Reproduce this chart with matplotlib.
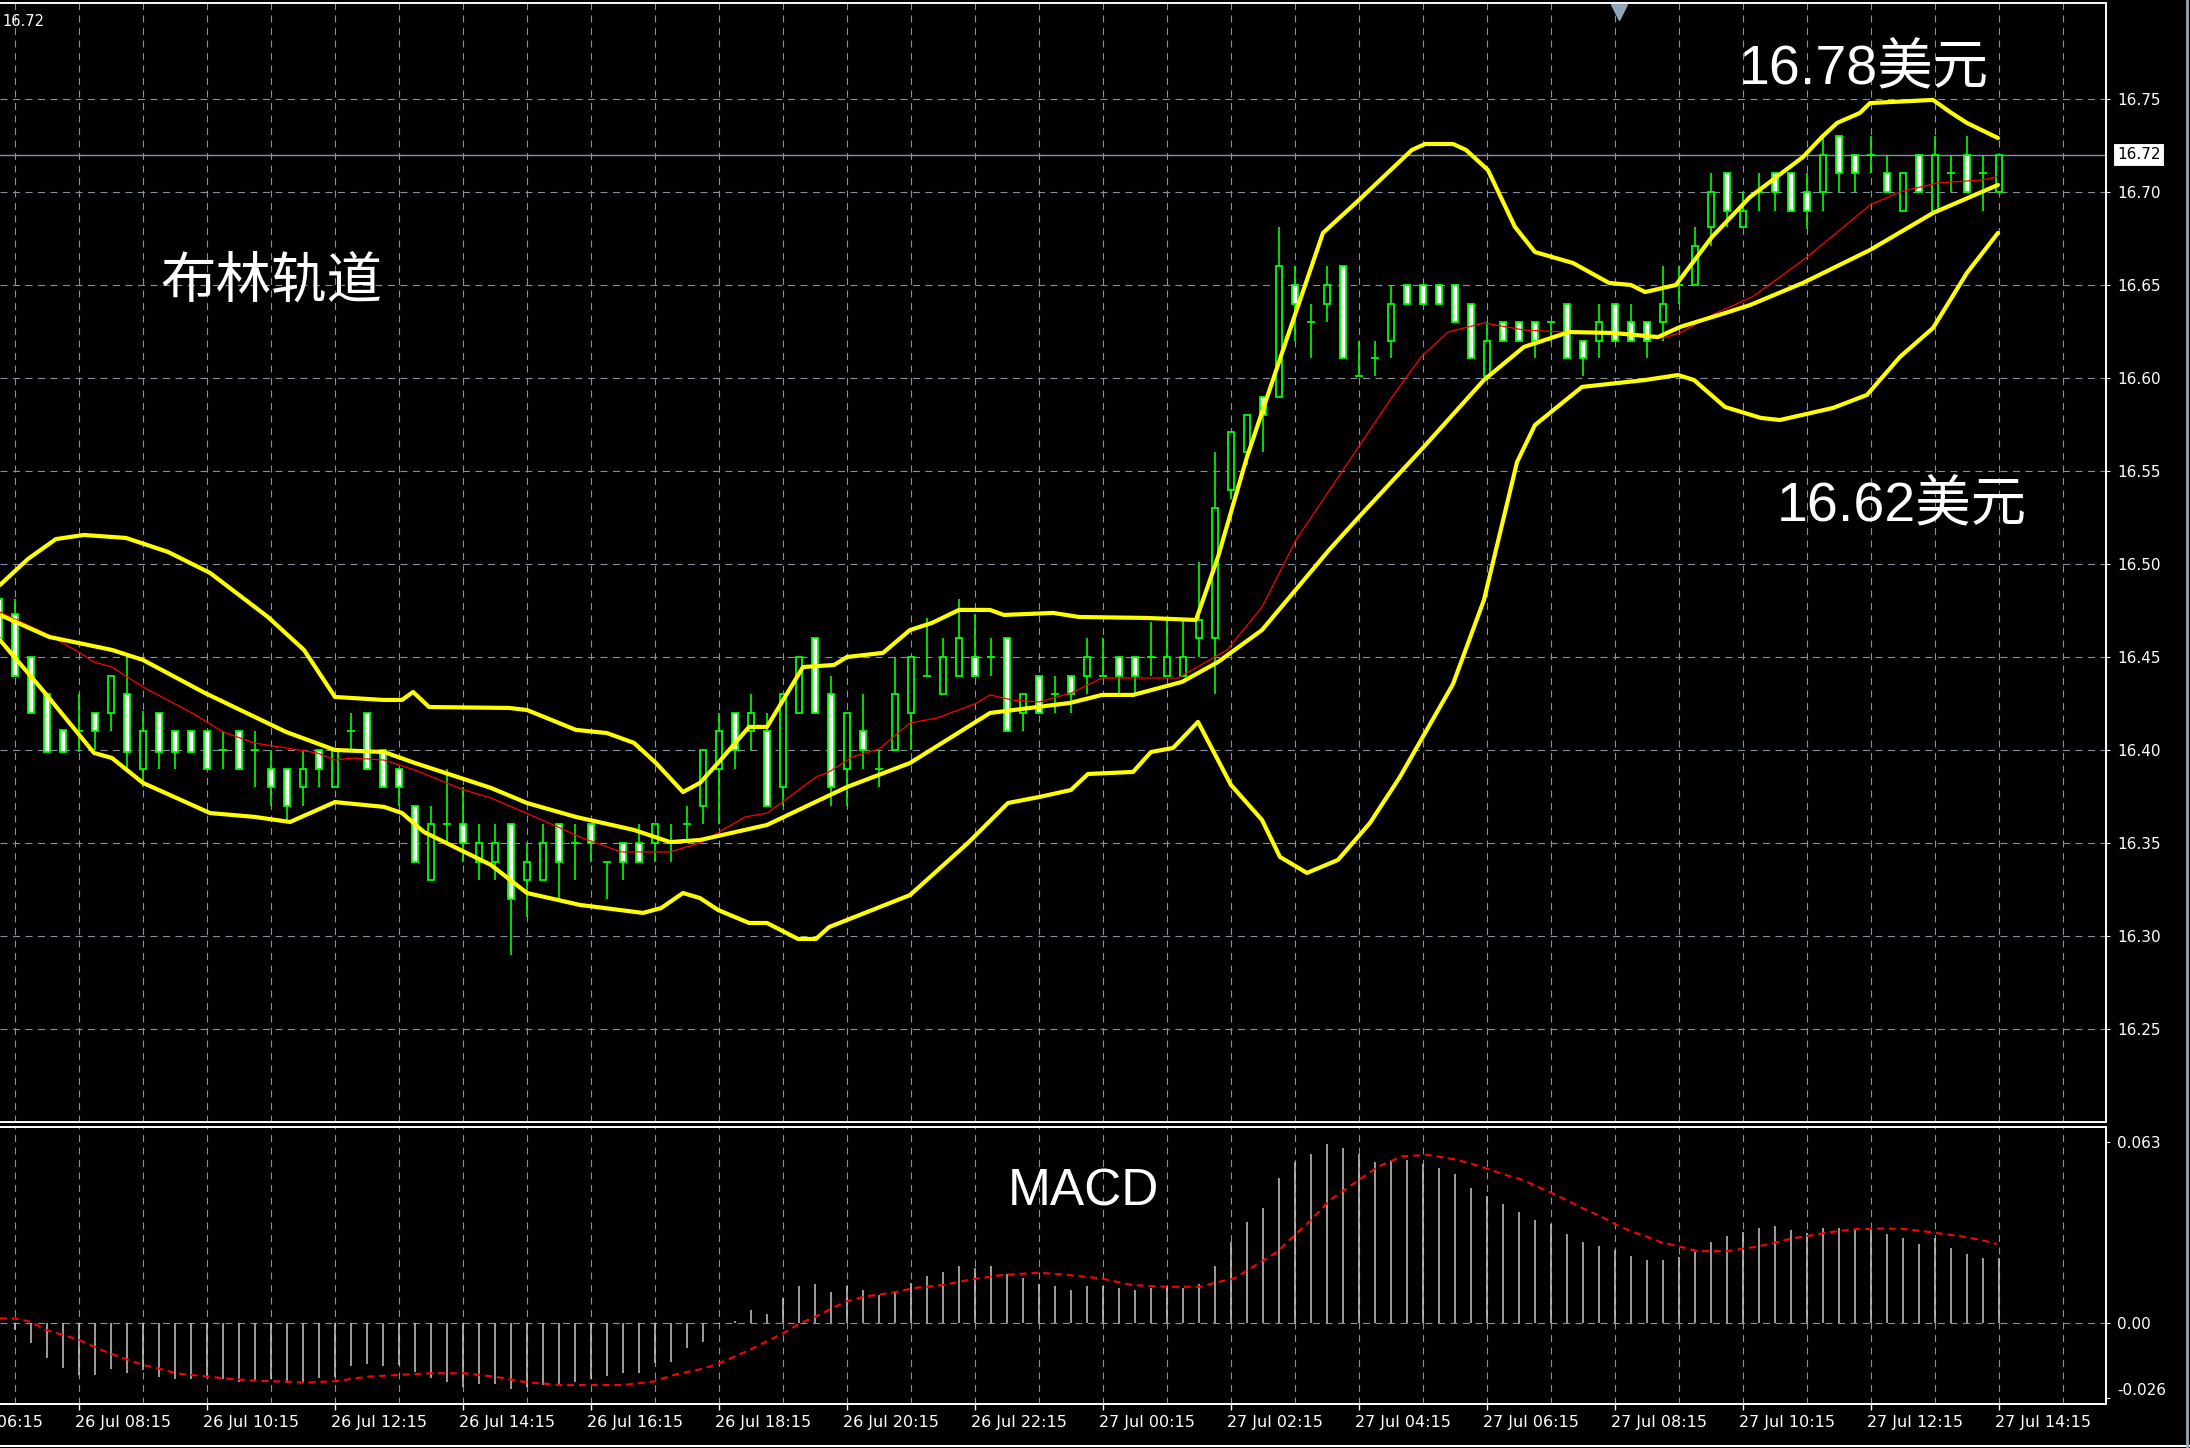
import numpy as np
import matplotlib.pyplot as plt
from matplotlib.lines import Line2D

plt.rcParams['lines.scale_dashes'] = False

# 15-minute bars, bar 0 = 26 Jul 07:00, last bar (125) = 27 Jul 14:15
opens = [16.481, 16.473, 16.450, 16.430, 16.411, 16.410, 16.420, 16.420, 16.430, 16.390,
         16.420, 16.410, 16.410, 16.410, 16.400, 16.410, 16.400, 16.390, 16.390, 16.380,
         16.400, 16.380, 16.410, 16.420, 16.400, 16.390, 16.370, 16.330, 16.360, 16.360,
         16.340, 16.340, 16.360, 16.330, 16.330, 16.360, 16.350, 16.360, 16.340, 16.350,
         16.350, 16.350, 16.350, 16.360, 16.370, 16.390, 16.420, 16.410, 16.410, 16.380,
         16.420, 16.460, 16.430, 16.390, 16.410, 16.390, 16.400, 16.420, 16.440, 16.430,
         16.440, 16.450, 16.450, 16.460, 16.420, 16.440, 16.430, 16.440, 16.440, 16.440,
         16.450, 16.450, 16.450, 16.440, 16.440, 16.460, 16.460, 16.540, 16.560, 16.590,
         16.590, 16.650, 16.630, 16.640, 16.660, 16.601, 16.611, 16.620, 16.650, 16.650,
         16.650, 16.650, 16.640, 16.601, 16.630, 16.630, 16.630, 16.630, 16.640, 16.620,
         16.620, 16.640, 16.630, 16.630, 16.630, 16.650, 16.650, 16.681, 16.710, 16.681,
         16.700, 16.710, 16.710, 16.700, 16.700, 16.730, 16.720, 16.720, 16.710, 16.690,
         16.720, 16.690, 16.710, 16.720, 16.710, 16.700]
highs = [16.483, 16.481, 16.450, 16.430, 16.411, 16.430, 16.420, 16.440, 16.450, 16.421,
         16.420, 16.410, 16.410, 16.410, 16.410, 16.410, 16.410, 16.400, 16.390, 16.400,
         16.400, 16.400, 16.420, 16.420, 16.400, 16.390, 16.370, 16.370, 16.390, 16.380,
         16.360, 16.360, 16.360, 16.350, 16.360, 16.360, 16.360, 16.360, 16.340, 16.350,
         16.360, 16.360, 16.360, 16.370, 16.400, 16.420, 16.420, 16.430, 16.420, 16.430,
         16.450, 16.460, 16.440, 16.420, 16.430, 16.400, 16.450, 16.450, 16.471, 16.460,
         16.481, 16.473, 16.460, 16.460, 16.430, 16.440, 16.440, 16.440, 16.460, 16.460,
         16.450, 16.450, 16.469, 16.471, 16.470, 16.501, 16.560, 16.571, 16.580, 16.590,
         16.681, 16.660, 16.640, 16.660, 16.660, 16.620, 16.620, 16.650, 16.650, 16.650,
         16.650, 16.650, 16.640, 16.630, 16.630, 16.630, 16.630, 16.630, 16.640, 16.620,
         16.640, 16.640, 16.640, 16.630, 16.660, 16.660, 16.681, 16.710, 16.710, 16.700,
         16.710, 16.710, 16.710, 16.710, 16.730, 16.730, 16.720, 16.730, 16.720, 16.710,
         16.720, 16.730, 16.720, 16.730, 16.720, 16.720]
lows = [16.460, 16.440, 16.420, 16.399, 16.399, 16.399, 16.400, 16.410, 16.389, 16.380,
        16.390, 16.390, 16.399, 16.390, 16.390, 16.390, 16.380, 16.370, 16.361, 16.370,
        16.380, 16.380, 16.400, 16.390, 16.380, 16.370, 16.340, 16.330, 16.350, 16.340,
        16.330, 16.330, 16.290, 16.310, 16.330, 16.319, 16.330, 16.340, 16.320, 16.330,
        16.340, 16.340, 16.340, 16.350, 16.360, 16.360, 16.390, 16.400, 16.370, 16.370,
        16.420, 16.420, 16.370, 16.370, 16.390, 16.380, 16.400, 16.400, 16.440, 16.430,
        16.440, 16.440, 16.440, 16.410, 16.410, 16.420, 16.420, 16.420, 16.430, 16.440,
        16.430, 16.430, 16.440, 16.440, 16.440, 16.450, 16.430, 16.535, 16.553, 16.560,
        16.590, 16.620, 16.611, 16.630, 16.611, 16.601, 16.601, 16.611, 16.640, 16.640,
        16.640, 16.630, 16.611, 16.601, 16.620, 16.620, 16.611, 16.620, 16.611, 16.601,
        16.611, 16.620, 16.620, 16.611, 16.620, 16.640, 16.650, 16.671, 16.681, 16.681,
        16.690, 16.690, 16.690, 16.680, 16.690, 16.700, 16.700, 16.710, 16.700, 16.690,
        16.700, 16.690, 16.700, 16.700, 16.690, 16.700]
closes = [16.460, 16.440, 16.420, 16.399, 16.399, 16.410, 16.410, 16.440, 16.399, 16.410,
          16.399, 16.399, 16.399, 16.390, 16.400, 16.390, 16.400, 16.380, 16.370, 16.390,
          16.390, 16.400, 16.410, 16.390, 16.380, 16.380, 16.340, 16.360, 16.360, 16.350,
          16.350, 16.350, 16.320, 16.340, 16.350, 16.340, 16.350, 16.350, 16.340, 16.340,
          16.340, 16.360, 16.350, 16.360, 16.400, 16.410, 16.400, 16.420, 16.370, 16.430,
          16.450, 16.420, 16.380, 16.420, 16.400, 16.390, 16.430, 16.450, 16.440, 16.450,
          16.460, 16.440, 16.450, 16.410, 16.430, 16.420, 16.430, 16.430, 16.450, 16.440,
          16.440, 16.440, 16.450, 16.450, 16.450, 16.470, 16.530, 16.571, 16.580, 16.580,
          16.660, 16.640, 16.630, 16.650, 16.611, 16.601, 16.611, 16.640, 16.640, 16.640,
          16.640, 16.630, 16.611, 16.620, 16.620, 16.620, 16.620, 16.630, 16.611, 16.611,
          16.630, 16.620, 16.620, 16.620, 16.640, 16.650, 16.671, 16.700, 16.690, 16.690,
          16.700, 16.700, 16.690, 16.690, 16.720, 16.710, 16.710, 16.720, 16.700, 16.710,
          16.700, 16.720, 16.710, 16.700, 16.710, 16.720]

# Bollinger bands (bar index, price)
upper_x = [0.06, 1.81, 3.56, 5.31, 7.94, 10.56, 13.19, 16.81, 19.06, 21.0, 24.06, 25.19, 25.88,
           26.88, 31.88, 33.0, 36.06, 38.0, 39.69, 41.06, 42.75, 43.81, 44.94, 46.88, 48.0,
           50.25, 52.19, 53.0, 55.25, 56.94, 58.31, 60.0, 61.94, 62.81, 65.88, 67.5, 71.69,
           74.81, 75.25, 76.19, 78.0, 80.25, 82.75, 85.0, 88.31, 89.13, 90.88, 91.69, 93.06,
           94.75, 96.0, 98.38, 100.63, 102.0, 102.88, 104.81, 107.06, 109.44, 112.75, 113.94,
           114.88, 116.31, 116.94, 120.88, 121.94, 123.0, 124.94]
upper_y = [16.4887, 16.5027, 16.5134, 16.5156, 16.514, 16.5065, 16.4952, 16.4715, 16.4538,
           16.4285, 16.4269, 16.4269, 16.4312, 16.4231, 16.4226, 16.4215, 16.4108, 16.4091,
           16.4038, 16.393, 16.3774, 16.3823, 16.393, 16.4124, 16.4124, 16.4446, 16.4457,
           16.45, 16.4522, 16.4645, 16.4683, 16.4753, 16.4753, 16.4726, 16.4737, 16.4715,
           16.471, 16.4699, 16.4806, 16.5038, 16.5575, 16.615, 16.678, 16.6957, 16.7226,
           16.7258, 16.7258, 16.7226, 16.7118, 16.6812, 16.6677, 16.6618, 16.6511, 16.65,
           16.6462, 16.65, 16.6758, 16.6973, 16.7188, 16.7296, 16.7371, 16.7425, 16.7478,
           16.7495, 16.743, 16.7371, 16.729]

middle_x = [0.06, 3.13, 7.06, 9.0, 12.88, 17.94, 21.0, 24.06, 26.0, 30.75, 33.0, 36.06, 39.69,
            41.94, 43.81, 48.0, 53.0, 56.94, 61.94, 66.94, 68.94, 70.88, 73.94, 76.19, 78.94,
            83.13, 85.0, 88.88, 92.81, 95.31, 98.13, 100.88, 103.69, 105.06, 107.88, 109.44,
            112.75, 116.94, 120.88, 124.94]
middle_y = [16.4726, 16.4608, 16.4538, 16.4484, 16.4306, 16.4097, 16.40, 16.3989, 16.393,
            16.3796, 16.3715, 16.364, 16.357, 16.3505, 16.3516, 16.3597, 16.3801, 16.393,
            16.4199, 16.4253, 16.4296, 16.4296, 16.4366, 16.4473, 16.4645, 16.5075, 16.5253,
            16.5613, 16.5989, 16.6167, 16.6247, 16.6242, 16.622, 16.6274, 16.6349, 16.6392,
            16.6511, 16.6688, 16.6887, 16.7038]

lower_x = [0.06, 2.88, 5.94, 7.06, 9.0, 13.19, 16.0, 18.19, 21.0, 24.06, 25.19, 26.56, 30.75,
           33.0, 36.31, 40.25, 41.38, 42.75, 43.81, 44.94, 46.88, 48.0, 49.94, 51.06, 51.88,
           56.94, 60.56, 63.06, 65.0, 67.0, 68.06, 70.88, 72.0, 73.38, 74.94, 77.0, 78.94,
           80.06, 81.75, 83.69, 85.69, 87.56, 90.88, 92.81, 94.88, 96.0, 98.94, 102.88,
           104.94, 105.94, 107.88, 110.13, 111.31, 114.63, 116.75, 118.81, 120.88, 123.0, 124.94]
lower_y = [16.4591, 16.4306, 16.3984, 16.3957, 16.3823, 16.3661, 16.364, 16.3613, 16.372,
           16.3694, 16.3661, 16.3559, 16.3382, 16.3231, 16.3167, 16.3124, 16.315, 16.3231,
           16.3204, 16.314, 16.307, 16.307, 16.2984, 16.2984, 16.3048, 16.322, 16.35, 16.3715,
           16.3747, 16.3785, 16.3871, 16.3882, 16.3989, 16.4011, 16.4151, 16.3812, 16.3624,
           16.3425, 16.3339, 16.3409, 16.3608, 16.3855, 16.4355, 16.4806, 16.5548, 16.5747,
           16.5952, 16.5989, 16.6016, 16.5989, 16.5844, 16.5785, 16.5774, 16.5839, 16.5909,
           16.6113, 16.6269, 16.6565, 16.678]

# thin red moving average
ma_x = [0.06, 3.13, 5.06, 5.94, 7.06, 9.0, 12.06, 14.0, 15.94, 17.94, 19.88, 21.0, 22.13,
        24.06, 26.0, 29.06, 30.75, 34.94, 36.31, 38.88, 41.94, 43.81, 46.63, 48.0, 49.13,
        51.06, 51.88, 53.31, 55.0, 56.94, 58.63, 61.13, 61.94, 63.31, 65.0, 67.0, 68.94,
        73.69, 76.75, 78.94, 81.06, 84.0, 86.94, 88.88, 90.56, 92.81, 95.31, 97.81, 99.5,
        104.0, 105.06, 107.31, 109.56, 111.31, 113.0, 116.94, 118.81, 121.13, 124.0, 124.88]
ma_y = [16.4742, 16.4618, 16.4522, 16.4473, 16.4446, 16.4339, 16.4199, 16.4097, 16.4038,
        16.4011, 16.3984, 16.3946, 16.3957, 16.3946, 16.3892, 16.3785, 16.3742, 16.3586,
        16.3532, 16.3452, 16.3452, 16.35, 16.364, 16.3661, 16.3731, 16.3855, 16.3882,
        16.3962, 16.4005, 16.4145, 16.4172, 16.4253, 16.4296, 16.4269, 16.4258, 16.4306,
        16.4387, 16.4387, 16.4538, 16.4769, 16.5129, 16.5505, 16.5882, 16.6113, 16.6247,
        16.6296, 16.6258, 16.6247, 16.6247, 16.6215, 16.6242, 16.6349, 16.6435, 16.6543,
        16.665, 16.693, 16.70, 16.7048, 16.7065, 16.7081]

# MACD histogram, one value per bar
macd_hist = [-0.0010, -0.0024, -0.0071, -0.0121, -0.0156, -0.0181, -0.0181, -0.0161, -0.0175, -0.0164,
             -0.0187, -0.0196, -0.0196, -0.0187, -0.0196, -0.0204, -0.0198, -0.0196, -0.0210, -0.0208,
             -0.0193, -0.0187, -0.0150, -0.0143, -0.0150, -0.0146, -0.0169, -0.0190, -0.0204, -0.0224,
             -0.0212, -0.0212, -0.0231, -0.0222, -0.0216, -0.0216, -0.0204, -0.0196, -0.0185, -0.0175,
             -0.0173, -0.0140, -0.0135, -0.0088, -0.0065, -0.0005, 0.0008, 0.0045, 0.0031, 0.0086,
             0.0129, 0.0136, 0.0108, 0.0127, 0.0115, 0.0097, 0.0112, 0.0138, 0.0164, 0.0177,
             0.0198, 0.0190, 0.0198, 0.0171, 0.0157, 0.0136, 0.0129, 0.0115, 0.0129, 0.0129,
             0.0122, 0.0115, 0.0122, 0.0129, 0.0122, 0.0136, 0.0198, 0.0283, 0.0351, 0.0399,
             0.0503, 0.0560, 0.0588, 0.0623, 0.0608, 0.0588, 0.0560, 0.0567, 0.0567, 0.0553,
             0.0538, 0.0519, 0.0469, 0.0442, 0.0413, 0.0385, 0.0358, 0.0345, 0.0309, 0.0281,
             0.0268, 0.0254, 0.0233, 0.0219, 0.0219, 0.0228, 0.0248, 0.0281, 0.0303, 0.0316,
             0.0330, 0.0338, 0.0324, 0.0312, 0.0330, 0.0332, 0.0326, 0.0330, 0.0310, 0.0297,
             0.0275, 0.0295, 0.0262, 0.0240, 0.0227, 0.0225]

signal_x = [0.06, 1.02, 1.98, 2.93, 4.05, 5.0, 5.96, 6.92, 8.03, 8.99, 9.95, 11.06, 12.02, 13.14,
            14.09, 16.0, 17.92, 19.2, 21.11, 23.02, 24.93, 26.85, 29.08, 31.0, 32.91, 35.14,
            37.05, 38.97, 40.88, 42.15, 44.07, 45.0, 46.9, 49.0, 50.0, 51.1, 52.9, 54.1, 55.9,
            57.1, 59.0, 60.8, 62.6, 65.0, 66.8, 68.9, 70.8, 72.9, 75.1, 76.0, 77.2, 78.4, 79.9,
            81.1, 82.0, 83.2, 85.0, 86.2, 87.7, 89.3, 91.03, 91.97, 93.07, 94.17, 95.12, 96.06,
            97.01, 97.95, 99.21, 100.16, 101.1, 102.05, 103.0, 103.94, 105.04, 106.14, 108.03,
            109.92, 111.02, 112.12, 113.07, 114.33, 115.9, 117.79, 119.05, 120.0, 121.25,
            122.83, 124.08, 124.87]
signal_y = [0.0016, 0.0016, 0.0004, -0.0024, -0.0042, -0.0059, -0.0083, -0.0106, -0.0127,
            -0.0146, -0.0158, -0.0175, -0.0181, -0.0187, -0.0193, -0.0201, -0.0204, -0.0208,
            -0.0202, -0.0187, -0.0181, -0.0175, -0.0175, -0.0187, -0.0206, -0.0216, -0.0216,
            -0.0216, -0.0204, -0.0181, -0.0158, -0.0141, -0.0094, -0.0036, -0.0003, 0.0024,
            0.0074, 0.0092, 0.0106, 0.0121, 0.0132, 0.0152, 0.0166, 0.0175, 0.0167, 0.0155,
            0.0132, 0.0126, 0.0126, 0.0140, 0.0155, 0.0196, 0.0248, 0.0312, 0.0358, 0.0428,
            0.0498, 0.0544, 0.0580, 0.0585, 0.0569, 0.0555, 0.0536, 0.0515, 0.0500, 0.0477,
            0.0453, 0.0428, 0.0393, 0.0370, 0.0341, 0.0318, 0.0300, 0.0280, 0.0266, 0.0250,
            0.0250, 0.0266, 0.0280, 0.0295, 0.0303, 0.0315, 0.0326, 0.0329, 0.0327, 0.0321,
            0.0312, 0.0300, 0.0286, 0.0275]

time_pos = [-3, 5, 13, 21, 29, 37, 45, 53, 61, 69, 77, 85, 93, 101, 109, 117, 125]
time_labels = ['26 Jul 06:15', '26 Jul 08:15', '26 Jul 10:15', '26 Jul 12:15', '26 Jul 14:15',
               '26 Jul 16:15', '26 Jul 18:15', '26 Jul 20:15', '26 Jul 22:15', '27 Jul 00:15',
               '27 Jul 02:15', '27 Jul 04:15', '27 Jul 06:15', '27 Jul 08:15', '27 Jul 10:15',
               '27 Jul 12:15', '27 Jul 14:15']
price_ticks = [16.25, 16.30, 16.35, 16.40, 16.45, 16.50, 16.55, 16.60, 16.65, 16.70, 16.75]
macd_ticks = [-0.026, 0.0, 0.063]
macd_tick_labels = ['-0.026', '0.00', '0.063']

GRID = '#8393a5'
W, H = 2190, 1448
fig = plt.figure(figsize=(W / 100, H / 100), dpi=100, facecolor='black')
ax = fig.add_axes([0, 1 - 1122 / H, 2106 / W, 1119 / H], facecolor='black')
mx = fig.add_axes([0, 1 - 1404 / H, 2106 / W, 277 / H], facecolor='black')

xmin, xmax = 0.0625, 131.69
for a in (ax, mx):
    a.set_xlim(xmin, xmax)
    a.spines['left'].set_visible(False)
    for s in ('top', 'right', 'bottom'):
        a.spines[s].set_color('white')
        a.spines[s].set_linewidth(1.4)
    a.yaxis.tick_right()
    a.tick_params(axis='y', colors='white', length=3, width=0.8, pad=5, labelsize=11)
    for gx in np.arange(1, 131, 4):
        a.axvline(gx, color=GRID, lw=0.8, ls=(0, (5, 4)), zorder=0)
ax.set_ylim(16.20, 16.8016)
mx.set_ylim(-0.0282, 0.0682)
ax.set_xticks([])
ax.set_yticks(price_ticks)
ax.set_yticklabels([f'{p:.2f}' for p in price_ticks])
for p in price_ticks:
    ax.axhline(p, color=GRID, lw=0.8, ls=(0, (5, 4)), zorder=0)
mx.set_yticks(macd_ticks)
mx.set_yticklabels(macd_tick_labels)
mx.get_yticklabels()[0].set_va('bottom')
mx.axhline(0, color=GRID, lw=0.8, ls=(0, (5, 4)), zorder=0)
mx.set_xticks(time_pos[1:])
mx.set_xticklabels([])
mx.tick_params(axis='x', colors='white', length=4.5, width=1)

# bid line and price box
last = closes[-1]
ax.axhline(last, color=GRID, lw=1.0, zorder=1)
ax.annotate(f'{last:.2f}', xy=(1, last), xycoords=('axes fraction', 'data'),
            xytext=(8, 0), textcoords='offset points', ha='left', va='center',
            fontsize=11, color='black',
            bbox=dict(boxstyle='square,pad=0.25', fc='white', ec='black', lw=0.8))

# candles
idx = np.arange(len(closes))
o = np.array(opens); c = np.array(closes)
ax.vlines(idx, lows, highs, color='#00ff00', lw=1.2, zorder=2)
bear = c < o
bull = c > o
doji = c == o
ax.bar(idx[bear], (o - c)[bear], bottom=c[bear], width=0.42, color='white',
       edgecolor='#00ff00', lw=1.3, zorder=2.5)
ax.bar(idx[bull], (c - o)[bull], bottom=o[bull], width=0.42, color='black',
       edgecolor='#00ff00', lw=1.3, zorder=2.5)
ax.hlines(c[doji], idx[doji] - 0.25, idx[doji] + 0.25, color='#00ff00', lw=1.3, zorder=2.5)

# indicators
ax.plot(ma_x, ma_y, color='#ff0000', lw=0.9, zorder=3)
for bx, by in ((upper_x, upper_y), (middle_x, middle_y), (lower_x, lower_y)):
    ax.plot(bx, by, color='#ffff00', lw=3.0, zorder=4, solid_joinstyle='round',
            solid_capstyle='round')

# MACD panel
mx.vlines(idx, 0, macd_hist, color='#c8c8c8', lw=1.1, zorder=2)
mx.plot(signal_x, signal_y, color='#ff0000', lw=1.5, ls=(0, (5, 3.5)), zorder=3)

# time labels (the first one is cut by the left edge, as on the chart)
for tp, tl in zip(time_pos, time_labels):
    mx.annotate(tl, xy=(tp, 0), xycoords=('data', 'axes fraction'), xytext=(-3, -13.5),
                textcoords='offset points', ha='left', va='center', fontsize=11.5,
                color='white', annotation_clip=False)

# shift marker at top
ax.plot([1619 / 2106], [0.992], transform=ax.transAxes, marker='v', ms=11,
        color='#8ea4b8', mec='#8ea4b8', clip_on=False, zorder=5)

# annotations
def fx(px):
    return px / W

def fy(py):
    return 1 - py / H

cjk = ['Liberation Sans', 'Noto Sans CJK SC', 'DejaVu Sans']
fig.text(fx(2), fy(21), '16.72', color='white', fontsize=10.5, va='center', ha='left')
fig.text(fx(160), fy(282), '布林轨道', color='white', fontsize=40, family=['Noto Sans CJK SC'],
         va='center', ha='left')
fig.text(fx(1739), fy(83), '16.78美元', color='white', fontsize=40, family=cjk,
         va='baseline', ha='left')
fig.text(fx(1777), fy(520), '16.62美元', color='white', fontsize=40, family=cjk,
         va='baseline', ha='left')
fig.text(fx(1008), fy(1205), 'MACD', color='white', fontsize=37, family=cjk,
         va='baseline', ha='left')

# window frame lines
fig.add_artist(Line2D([0, 1], [fy(1446), fy(1446)], color='white', lw=1.5))
fig.add_artist(Line2D([fx(2187), fx(2187)], [0, 1], color='#9aa8b8', lw=2))

fig.savefig('out.png', dpi=100, facecolor='black')
